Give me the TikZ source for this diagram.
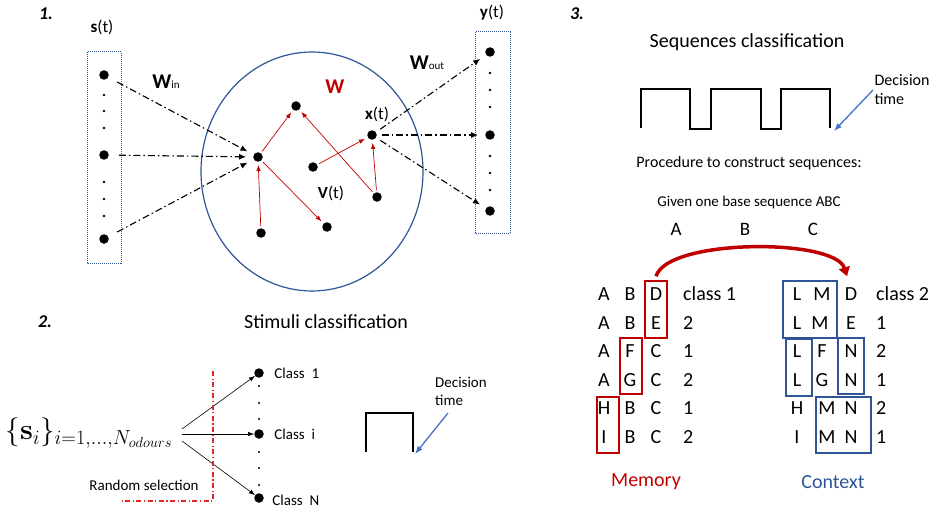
\documentclass[tikz,border=0pt]{standalone}
\usepackage{fix-cm}
\usepackage[no-math]{fontspec}
\setmainfont{Carlito}
\usetikzlibrary{arrows.meta, positioning}
\definecolor{cRed}{HTML}{C00000}
\definecolor{cBlue}{HTML}{2F5597}
\definecolor{cSky}{HTML}{4472C4}
\definecolor{cLine}{HTML}{E0282A}

\begin{document}
\begin{tikzpicture}[x=1pt, y=-1pt,
      dot/.style  = {circle, fill=black, inner sep=0pt, minimum size=9.5pt},
      sdot/.style = {circle, fill=black, inner sep=0pt, minimum size=2.6pt},
      col/.style  = {draw=cBlue, line width=1pt, densely dotted},
      dd/.style   = {-{Latex[length=7pt,width=6pt]}, line width=1.1pt, dash pattern=on 7pt off 3pt on 1.5pt off 3pt},
      rd/.style   = {-{Latex[length=6pt,width=4.5pt]}, draw=cRed, line width=0.7pt, shorten >=3pt, shorten <=2pt},
      kd/.style   = {-{Latex[length=6pt,width=4.5pt]}, line width=0.6pt},
      bl/.style   = {-{Latex[length=8pt,width=6pt]}, draw=cSky, line width=1.3pt},
      carry/.style = {-{Triangle[length=9pt,width=11pt]}, draw=cRed, line width=3.5pt},
      lt/.style   = {inner sep=0pt, text height=1.5ex, text depth=0pt, font=\fontsize{20}{24}\selectfont},
      rbox/.style = {draw=cRed, line width=1.1pt},
      bbox/.style = {draw=cBlue, line width=1.1pt},
      pulse/.style = {line width=1.2pt},
      num/.style  = {font=\bfseries\itshape\fontsize{18}{20}\selectfont},
      ttl/.style  = {font=\fontsize{20}{24}\selectfont},
      lbl/.style  = {font=\fontsize{15}{18}\selectfont},
      vec/.style  = {font=\fontsize{17}{20}\selectfont},
      dec/.style  = {align=left, font=\fontsize{15}{18}\selectfont} ]
    \useasboundingbox (0,0) rectangle (936,513);

    % 1. reservoir
    \node[num] at (46,14) {1.};
    \node[vec] (st) at (102,27) {\textbf{s}(t)};
    \draw[col] (87,52) rectangle (121,263);
    \node[dot] (s1) at (104,75) {};
    \node[dot] (s2) at (104,155) {};
    \node[dot] (s3) at (104,239) {};
    \foreach \y in {95,111,128,182,199,216} \node[sdot] at (104,\y) {};
    \node (win) at (166,82) {{\bfseries\fontsize{21}{22}\selectfont W}{\fontsize{11}{12}\selectfont in}};

    \draw[cBlue, line width=1.2pt] (312,171.5) ellipse [x radius=111, y radius=119.5];
    \node[font=\bfseries\fontsize{21}{22}\selectfont, text=cRed] (wr) at (335,87) {W};
    \node[dot] (a) at (258,157) {};
    \node[dot] (b) at (296,106) {};
    \node[dot] (c) at (313,167) {};
    \node[dot] (xn) at (372,135) {};
    \node[dot] (d) at (377,197) {};
    \node[dot] (e) at (327,227) {};
    \node[dot] (f) at (261,233) {};
    \node[vec] (xt) at (377,114) {\textbf{x}(t)};
    \node[vec] (vt) at (331,193) {\textbf{V}(t)};
    \draw[rd] (a) -- (b);  \draw[rd] (f) -- (a);  \draw[rd] (a) -- (e);
    \draw[rd] (c) -- (xn); \draw[rd] (d) -- (xn); \draw[rd] (d) -- (b);

    \node[vec] (yt) at (492,13) {\textbf{y}(t)};
    \draw[col] (475,32) rectangle (510,233);
    \node[dot] (y1) at (490,52) {};
    \node[dot] (y2) at (490,135) {};
    \node[dot] (y3) at (490,211) {};
    \foreach \y in {73,90,107,156,173,190} \node[sdot] at (490,\y) {};
    \node (wout) at (427,63) {{\bfseries\fontsize{21}{22}\selectfont W}{\fontsize{11}{12}\selectfont out}};

    \foreach \s in {s1,s2,s3} \draw[dd, shorten <=10pt, shorten >=7pt] (\s) -- (a);
    \foreach \y in {y1,y2,y3} \draw[dd, shorten <=5pt, shorten >=7pt] (xn) -- (\y);

    % 2. stimuli
    \node[num] at (45,322) {2.};
    \node[ttl] at (326,322) {Stimuli classification};
    \node[font=\fontsize{29}{32}\selectfont, inner sep=0pt] (odr) at (89,433) {$\{\mathbf{s}_i\}_{i=1,\ldots,N_{odours}}$};
    \coordinate (src) at (182,434);
    \node[dot] (c1) at (259,373) {};
    \node[dot] (ci) at (259,434) {};
    \node[dot] (cN) at (259,498) {};
    \foreach \y in {386,403,419,452,468,485} \node[sdot, minimum size=2.2pt] at (259,\y) {};
    \node[lbl, right=7pt of c1] {Class~~1};
    \node[lbl, right=7pt of ci] {Class~~i};
    \node[lbl, right=5pt of cN, yshift=-2pt] {Class~~N};
    \draw[kd] ([yshift=5pt]src) -- ([xshift=-16pt,yshift=-2pt]c1);
    \draw[kd] (src) -- ([xshift=-16pt]ci);
    \draw[kd] ([yshift=-7pt]src) -- ([xshift=-16pt,yshift=5pt]cN);
    \draw[draw=cLine, line width=1.2pt, dash pattern=on 5pt off 2.5pt on 1.2pt off 2.5pt] (213,371) -- (213,501) -- (122,501);
    \node[lbl] (rs) at (144,485) {Random selection};

    \draw[pulse] (366,452) -- (366,413) -- (413,413) -- (413,452);
    \node[dec] (dec2) at (461,391) {Decision\\time};
    \coordinate (dt2) at (448,413);
    \coordinate (pe2) at (415,454);
    \draw[bl] (dt2) -- (pe2);

    % 3. sequences
    \node[num] at (577,14) {3.};
    \node[ttl] at (747,42) {Sequences classification};
    \draw[pulse] (641,128) -- (641,89) -- (690,89) -- (690,129) -- (711,129) -- (711,89) -- (761,89)
                 -- (761,129) -- (781,129) -- (781,89) -- (830,89) -- (830,128);
    \node[dec, font=\fontsize{16}{19}\selectfont] (dec3) at (902,90) {Decision\\time};
    \coordinate (dt3) at (873,90);
    \coordinate (pe3) at (834,131);
    \draw[bl] (dt3) -- (pe3);
    \node[font=\fontsize{16}{19}\selectfont] (proc) at (749,163) {Procedure to construct sequences:};
    \node[lbl] (base) at (749,203) {Given one base sequence ABC};
    \node[lt, font=\fontsize{19}{22}\selectfont] (bA) at (676,232) {A};
    \node[lt, font=\fontsize{19}{22}\selectfont] (bB) at (745,232) {B};
    \node[lt, font=\fontsize{19}{22}\selectfont] (bC) at (813,232) {C};

    \foreach \a/\b/\c/\n [count=\r] in {A/B/D/{class 1}, A/B/E/2, A/F/C/1, A/G/C/2, H/B/C/1, I/B/C/2} {
      \node[lt] (ma\r) at (604,{268.4+28.6*\r}) {\a};
      \node[lt] (mb\r) at (630,{268.4+28.6*\r}) {\b};
      \node[lt] (mc\r) at (656,{268.4+28.6*\r}) {\c};
      \node[lt, anchor=west] (mn\r) at (683,{268.4+28.6*\r}) {\n};
    }
    \foreach \a/\b/\c/\n/\bx [count=\r] in {L/M/D/{class 2}/822, L/M/E/1/820, L/F/N/2/822, L/G/N/1/822, H/M/N/2/827, I/M/N/1/827} {
      \node[lt] (ca\r) at (797,{268.4+28.6*\r}) {\a};
      \node[lt] (cb\r) at (\bx,{268.4+28.6*\r}) {\b};
      \node[lt] (cc\r) at (851,{268.4+28.6*\r}) {\c};
      \node[lt, anchor=west] (cn\r) at (876,{268.4+28.6*\r}) {\n};
    }
    \draw[rbox] (645,281) rectangle (667,338);
    \draw[rbox] (620,338) rectangle (642,394);
    \draw[rbox] (597,397) rectangle (619,453);
    \draw[bbox] (783,281) rectangle (837,338);
    \draw[bbox] (786,339) rectangle (812,396);
    \draw[bbox] (838,338) rectangle (864,394);
    \draw[bbox] (816,397) rectangle (871,453);
    \draw[carry] ([yshift=17pt]mc1.north) .. controls +(12,-38) and +(-12,-38) .. ([xshift=-4pt,yshift=17pt]cc1.north);
    \node[ttl, text=cRed] (mem) at (646,482) {Memory};
    \node[ttl, text=cBlue] (ctx) at (833,482) {Context};
  \end{tikzpicture}
\end{document}
